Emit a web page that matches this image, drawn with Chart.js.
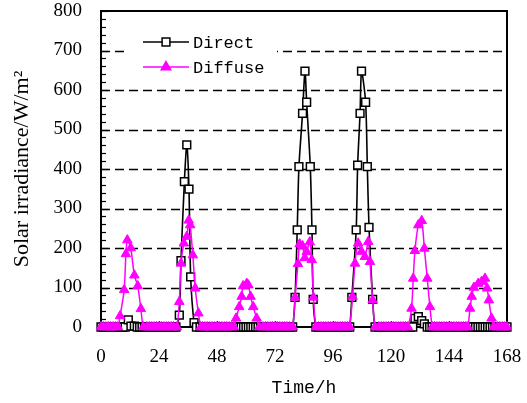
<!DOCTYPE html>
<html>
<head>
<meta charset="utf-8">
<script src="https://cdn.jsdelivr.net/npm/chart.js@4.4.0/dist/chart.umd.min.js"></script>
<style>
  html, body { margin: 0; padding: 0; background: #fff; }
</style>
</head>
<body>
<canvas id="chart" width="527" height="403"></canvas>
<script>
// 時刻 (h) と日射量 (W/m²)、1日ずつ1行
const directHours = [
  0, 1, 2, 3, 4, 5, 6, 7, 8, 9, 10, 11.3, 12.4, 13.8, 15, 16, 17, 18, 19, 20, 21, 22, 23,
  24, 25, 26, 27, 28, 29, 30, 31, 32.4, 33.1, 34.5, 35.5, 36.4, 37.1, 38.5, 39.5, 41, 42, 43, 44, 45, 46, 47,
  48, 49, 50, 51, 52, 53, 54, 55, 56, 57, 58, 59, 60, 61, 62, 63, 64, 65, 66, 67, 68, 69, 70, 71,
  72, 73, 74, 75, 76, 77, 78, 79.3, 80.3, 81.2, 81.9, 83.4, 84.4, 85.1, 86.6, 87.3, 87.8, 88.9, 90, 91, 92, 93, 94, 95,
  96, 97, 98, 99, 100, 101, 102, 102.9, 103.8, 105.6, 106.2, 107.2, 107.8, 109.5, 110.2, 110.9, 112.4, 113.4, 115, 116, 117, 118, 119,
  120, 121, 122, 123, 124, 125, 126, 127, 128, 129, 129.9, 131.3, 132.7, 133.8, 135, 136, 137, 138, 139, 140, 141, 142, 143,
  144, 145, 146, 147, 148, 149, 150, 151, 152, 153, 154, 155, 156, 157, 158, 159, 160, 161, 162, 163, 164, 165, 166, 167, 168
];
const directValues = [
  0, 0, 0, 0, 0, 0, 0, 0, 0, 0, 0, 18, 2, 2, 0, 0, 0, 0, 0, 0, 0, 0, 0,
  0, 0, 0, 0, 0, 0, 0, 0, 30, 168, 368, 461, 349, 127, 11, 0, 0, 0, 0, 0, 0, 0, 0,
  0, 0, 0, 0, 0, 0, 0, 0, 0, 0, 0, 0, 0, 0, 0, 0, 0, 0, 0, 0, 0, 0, 0, 0,
  0, 0, 0, 0, 0, 0, 0, 0, 75, 246, 406, 541, 648, 569, 406, 246, 70, 0, 0, 0, 0, 0, 0, 0,
  0, 0, 0, 0, 0, 0, 0, 0, 75, 246, 410, 541, 648, 569, 406, 252, 70, 0, 0, 0, 0, 0, 0,
  0, 0, 0, 0, 0, 0, 0, 0, 0, 0, 22, 26, 16, 8, 0, 0, 0, 0, 0, 0, 0, 0, 0,
  0, 0, 0, 0, 0, 0, 0, 0, 0, 0, 0, 0, 0, 0, 0, 0, 0, 0, 0, 0, 0, 0, 0, 0, 0
];
const diffuseHours = [
  0, 1, 2, 3, 4, 5, 6, 7, 7.9, 9.6, 10.3, 10.9, 12.3, 13.8, 15.2, 16.5, 17.5, 19, 20, 21, 22, 23,
  24, 25, 26, 27, 28, 29, 30, 31.4, 32.4, 33.1, 34.3, 35.5, 36.3, 36.9, 38.0, 39.0, 40.3, 41.3, 42, 43, 44, 45, 46, 47,
  48, 49, 50, 51, 52, 53, 54, 55, 55.9, 57.2, 58.2, 58.8, 60.3, 61.0, 61.9, 63.0, 64.4, 65.5, 67, 68, 69, 70, 71,
  72, 73, 74, 75, 76, 77, 78, 79.3, 80.3, 81.5, 82.2, 83.4, 84.3, 85.1, 86.4, 87.2, 87.9, 88.9, 90, 91, 92, 93, 94, 95,
  96, 97, 98, 99, 100, 101, 102, 102.9, 104.1, 105.1, 106.4, 107.8, 109.2, 110.6, 111.3, 112.4, 113.4, 115, 116, 117, 118, 119,
  120, 121, 122, 123, 124, 125, 126, 127, 128.5, 129.2, 129.9, 131.3, 132.7, 133.8, 135.0, 136.1, 137.1, 138, 139, 140, 141, 142, 143,
  144, 145, 146, 147, 148, 149, 150, 151, 151.8, 152.7, 153.4, 154.3, 156.1, 157.5, 158.9, 159.8, 160.5, 161.6, 162.5, 164, 165, 166, 167, 168
];
const diffuseValues = [
  0, 0, 0, 0, 0, 0, 0, 0, 28, 94, 185, 220, 200, 131, 104, 46, 0, 0, 0, 0, 0, 0,
  0, 0, 0, 0, 0, 0, 0, 0, 64, 161, 212, 229, 270, 258, 182, 98, 35, 0, 0, 0, 0, 0, 0, 0,
  0, 0, 0, 0, 0, 0, 0, 0, 22, 51, 77, 104, 110, 106, 77, 51, 22, 0, 0, 0, 0, 0, 0,
  0, 0, 0, 0, 0, 0, 0, 0, 75, 160, 210, 205, 175, 190, 215, 170, 75, 0, 0, 0, 0, 0, 0, 0,
  0, 0, 0, 0, 0, 0, 0, 0, 77, 161, 212, 191, 178, 216, 165, 68, 0, 0, 0, 0, 0, 0,
  0, 0, 0, 0, 0, 0, 0, 0, 47, 123, 193, 258, 269, 199, 123, 51, 0, 0, 0, 0, 0, 0, 0,
  0, 0, 0, 0, 0, 0, 0, 0, 0, 47, 77, 100, 110, 115, 123, 98, 68, 22, 0, 0, 0, 0, 0, 0
];
const xTicks = [0, 24, 48, 72, 96, 120, 144, 168];
const yTicks = [0, 100, 200, 300, 400, 500, 600, 700, 800];
const xMinorStep = 8;
const yMinorStep = 20;

const toPoints = (hours, values) => hours.map((h, i) => ({ x: h, y: values[i] }));

// 枠・破線グリッド・内向き目盛
const framePlugin = {
  id: "frame",
  beforeDatasetsDraw(chart) {
    const { ctx, chartArea: a, scales: { x, y } } = chart;
    ctx.save();
    ctx.strokeStyle = "#000";
    ctx.lineWidth = 1.5;
    ctx.setLineDash([9, 5]);
    yTicks.slice(1, -1).forEach((v) => {
      const py = Math.round(y.getPixelForValue(v)) + 0.5;
      ctx.beginPath();
      ctx.moveTo(a.left, py);
      ctx.lineTo(a.right, py);
      ctx.stroke();
    });
    ctx.setLineDash([]);
    ctx.lineWidth = 1.2;
    for (let v = 0; v <= 800; v += yMinorStep) {
      const py = Math.round(y.getPixelForValue(v)) + 0.5;
      const len = v % 100 === 0 ? 7 : 5;
      ctx.beginPath();
      ctx.moveTo(a.left, py);
      ctx.lineTo(a.left + len, py);
      ctx.stroke();
    }
    for (let v = 0; v <= 168; v += xMinorStep) {
      const px = Math.round(x.getPixelForValue(v)) + 0.5;
      const len = v % 24 === 0 ? 6 : 4;
      ctx.beginPath();
      ctx.moveTo(px, a.bottom);
      ctx.lineTo(px, a.bottom - len);
      ctx.stroke();
    }
    ctx.lineWidth = 2;
    ctx.strokeRect(a.left, a.top, a.right - a.left, a.bottom - a.top);
    ctx.restore();
  }
};

// グラフ内の凡例
const legendPlugin = {
  id: "insideLegend",
  afterDatasetsDraw(chart) {
    const { ctx } = chart;
    ctx.save();
    ctx.fillStyle = "#fff";
    ctx.fillRect(127, 27, 150, 52);
    chart.data.datasets.slice().reverse().forEach((ds, i) => {
      const ly = 42 + i * 25;
      ctx.strokeStyle = ds.borderColor;
      ctx.lineWidth = 1.5;
      ctx.beginPath();
      ctx.moveTo(143, ly);
      ctx.lineTo(189, ly);
      ctx.stroke();
      ctx.fillStyle = ds.pointBackgroundColor;
      ctx.strokeStyle = ds.pointBorderColor;
      Chart.helpers.drawPoint(ctx, {
        pointStyle: ds.pointStyle,
        radius: ds.pointRadius,
        borderWidth: ds.pointBorderWidth,
        rotation: 0
      }, 166, ly);
      ctx.fillStyle = "#000";
      ctx.font = "17px 'Liberation Mono'";
      ctx.textBaseline = "middle";
      ctx.fillText(ds.label, 193, ly + 1);
    });
    ctx.restore();
  }
};

new Chart(document.getElementById("chart"), {
  type: "scatter",
  data: {
    datasets: [
      {
        label: "Diffuse",
        data: toPoints(diffuseHours, diffuseValues),
        showLine: true,
        borderColor: "#ff00ff",
        borderWidth: 1.5,
        pointStyle: "triangle",
        pointRadius: 5.5,
        pointBorderWidth: 1,
        pointBackgroundColor: "#ff00ff",
        pointBorderColor: "#ff00ff",
        tension: 0.25,
        clip: false
      },
      {
        label: "Direct",
        data: toPoints(directHours, directValues),
        showLine: true,
        borderColor: "#000",
        borderWidth: 1.6,
        pointStyle: "rect",
        pointRadius: 5.5,
        pointBorderWidth: 1.5,
        pointBackgroundColor: "#fff",
        pointBorderColor: "#000",
        tension: 0.25,
        clip: false
      }
    ]
  },
  options: {
    responsive: false,
    animation: false,
    layout: { padding: { top: 11, right: 20, left: 0, bottom: 0 } },
    plugins: { legend: { display: false }, tooltip: { enabled: false } },
    scales: {
      x: {
        type: "linear",
        min: 0,
        max: 168,
        afterBuildTicks: (s) => { s.ticks = xTicks.map((v) => ({ value: v })); },
        afterFit: (s) => { s.height = 76; s.paddingLeft = 0; s.paddingRight = 0; },
        grid: { display: false, drawTicks: false },
        border: { display: false },
        ticks: { padding: 19, color: "#000", font: { family: "'Liberation Serif'", size: 19 } },
        title: {
          display: true,
          text: "Time/h",
          color: "#000",
          font: { family: "'Liberation Mono'", size: 18 },
          padding: { top: 0, bottom: 4 }
        }
      },
      y: {
        min: 0,
        max: 800,
        afterBuildTicks: (s) => { s.ticks = yTicks.map((v) => ({ value: v })); },
        afterFit: (s) => { s.width = 101; s.paddingTop = 0; s.paddingBottom = 0; },
        grid: { display: false, drawTicks: false },
        border: { display: false },
        ticks: { padding: 19, color: "#000", font: { family: "'Liberation Serif'", size: 19 } },
        title: {
          display: true,
          text: "Solar irradiance/W/m²",
          color: "#000",
          font: { family: "'Liberation Serif'", size: 22 },
          padding: { top: 9, bottom: 0 }
        }
      }
    }
  },
  plugins: [framePlugin, legendPlugin]
});
</script>
</body>
</html>
